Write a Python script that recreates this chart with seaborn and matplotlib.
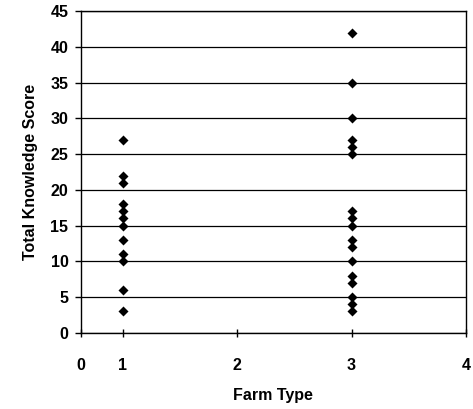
import matplotlib
matplotlib.use("Agg")
import matplotlib.pyplot as plt
import pandas as pd
import seaborn as sns

farm1_scores = [27, 22, 21, 18, 17, 16, 15, 13, 11, 10, 6, 3]
farm3_scores = [42, 35, 30, 27, 26, 25, 17, 16, 15, 13, 12, 10, 8, 7, 5, 4, 3]
x_ticks = [1, 2, 3, 4]
y_ticks = [0, 5, 10, 15, 20, 25, 30, 35, 40, 45]


def main():
    sns.set_theme(style="white")
    plt.rcParams["font.family"] = ["Liberation Sans", "DejaVu Sans"]

    df = pd.DataFrame(
        {
            "farm_type": [1] * len(farm1_scores) + [3] * len(farm3_scores),
            "score": farm1_scores + farm3_scores,
        }
    )

    fig = plt.figure(figsize=(4.73, 4.09), dpi=100)
    ax = fig.add_axes([0.171, 0.186, 0.814, 0.787])

    sns.scatterplot(
        data=df,
        x="farm_type",
        y="score",
        marker="D",
        s=26,
        color="black",
        edgecolor="black",
        linewidth=0,
        ax=ax,
    )

    # the original axis starts a bit above 0 but labels its left edge "0"
    x_min = 0.633
    ax.set_xlim(x_min, 4)
    ax.set_ylim(0, 45)
    ax.set_xticks([x_min] + x_ticks)
    ax.set_xticklabels(["0"] + [str(t) for t in x_ticks], fontweight="bold", fontsize=11.5, color="black")
    ax.set_yticks(y_ticks)
    ax.set_yticklabels([str(t) for t in y_ticks], fontweight="bold", fontsize=11.5, color="black")

    ax.grid(axis="y", color="black", linewidth=0.9)
    ax.grid(axis="x", visible=False)
    ax.set_axisbelow(True)
    for side in ["left", "bottom", "right", "top"]:
        ax.spines[side].set_visible(True)
        ax.spines[side].set_color("black")
        ax.spines[side].set_linewidth(1.0)

    ax.tick_params(axis="y", left=True, direction="out", length=4, width=1, color="black", pad=5)
    ax.tick_params(axis="x", bottom=True, direction="inout", length=6, width=1, color="black", pad=15)

    ax.set_xlabel("Farm Type", fontweight="bold", fontsize=11.5, labelpad=11, color="black")
    ax.set_ylabel("Total Knowledge Score", fontweight="bold", fontsize=11.5, labelpad=9, color="black")

    fig.savefig("out.png", dpi=100)
    plt.close(fig)


if __name__ == "__main__":
    main()
